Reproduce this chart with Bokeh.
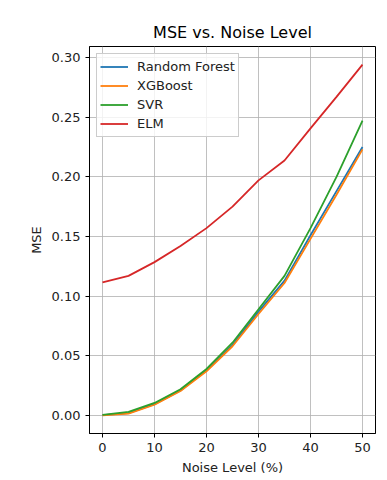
from bokeh.plotting import figure
from bokeh.models import Range1d, FixedTicker, Legend, LegendItem
from bokeh.embed import file_html
from bokeh.resources import INLINE

noise = [0, 5, 10, 15, 20, 25, 30, 35, 40, 45, 50]
rf = [0.0003, 0.002, 0.0095, 0.021, 0.038, 0.059, 0.087, 0.113, 0.151, 0.188, 0.225]
xgb = [0.0002, 0.0015, 0.009, 0.0205, 0.037, 0.058, 0.085, 0.111, 0.148, 0.185, 0.223]
svr = [0.0005, 0.003, 0.0105, 0.022, 0.039, 0.061, 0.089, 0.117, 0.157, 0.200, 0.247]
elm = [0.1115, 0.117, 0.1285, 0.142, 0.157, 0.175, 0.197, 0.2137, 0.2406, 0.267, 0.294]

names = ["Random Forest", "XGBoost", "SVR", "ELM"]
colors = ["#1f77b4", "#ff7f0e", "#2ca02c", "#d62728"]
x_ticks = [0, 10, 20, 30, 40, 50]
y_ticks = [0.0, 0.05, 0.10, 0.15, 0.20, 0.25, 0.30]

FONT = "DejaVu Sans"

p = figure(width=387, height=480, output_backend="svg", toolbar_location=None,
           x_range=Range1d(-2.5, 52.5), y_range=Range1d(-0.0151, 0.3092),
           min_border_left=89, min_border_right=12, min_border_top=46, min_border_bottom=47,
           title="MSE vs. Noise Level")

p.title.align = "center"
p.title.text_font = FONT
p.title.text_font_size = "16px"
p.title.text_font_style = "normal"
p.title.text_color = "#000000"

p.outline_line_color = "#000000"
p.outline_line_alpha = 1
p.outline_line_width = 1

for ax in (p.xaxis[0], p.yaxis[0]):
    ax.major_label_text_font = FONT
    ax.major_label_text_font_size = "13px"
    ax.major_label_text_color = "#222222"
    ax.axis_label_text_font = FONT
    ax.axis_label_text_font_size = "13px"
    ax.axis_label_text_font_style = "normal"
    ax.axis_label_text_color = "#222222"
    ax.major_tick_in = 0
    ax.major_tick_out = 4
    ax.minor_tick_line_color = None
    ax.axis_line_color = "#000000"
    ax.major_tick_line_color = "#000000"

p.xaxis[0].ticker = FixedTicker(ticks=x_ticks)
p.yaxis[0].ticker = FixedTicker(ticks=y_ticks)
p.xaxis[0].major_label_overrides = {t: str(t) for t in x_ticks}
p.yaxis[0].major_label_overrides = {t: f"{t:.2f}" for t in y_ticks}
p.xaxis[0].axis_label = "Noise Level (%)"
p.yaxis[0].axis_label = "MSE"

p.grid.grid_line_color = "#b0b0b0"
p.grid.grid_line_alpha = 0.8
p.grid.grid_line_width = 1

items = []
for name, col, ys in zip(names, colors, [rf, xgb, svr, elm]):
    r = p.line(noise, ys, line_color=col, line_width=1.8)
    items.append(LegendItem(label=name, renderers=[r]))

legend = Legend(items=items, location="top_left")
legend.label_text_font = FONT
legend.label_text_font_size = "13px"
legend.label_text_color = "#222222"
legend.border_line_color = "#cccccc"
legend.border_line_alpha = 1
legend.background_fill_alpha = 0.8
legend.margin = 7
legend.padding = 3
legend.spacing = 0
legend.label_height = 19
legend.glyph_height = 19
legend.glyph_width = 28
legend.label_standoff = 9
p.add_layout(legend)

open("out.html", "w").write(file_html(p, INLINE))
